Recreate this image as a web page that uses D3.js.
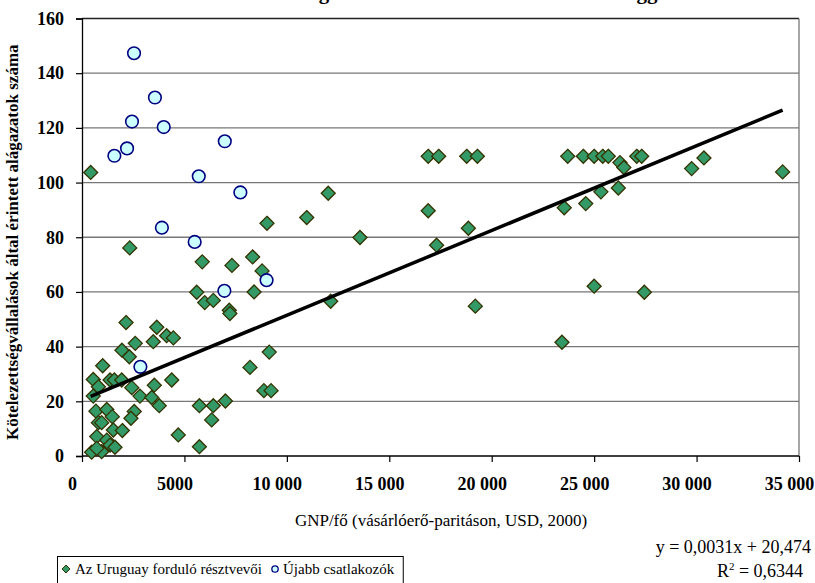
<!DOCTYPE html>
<html><head><meta charset="utf-8">
<script src="https://cdn.jsdelivr.net/npm/d3@7"></script>
<style>body{margin:0;background:#fff}svg{display:block}</style>
</head><body>
<svg id="c" width="815" height="583"></svg>
<script>
const titleText = "A kötelezettségvállalások száma és a GNP összefüggése";
const yTitle = "Kötelezettségvállalások által érintett alágazatok száma";
const xTitle = "GNP/fő (vásárlóerő-paritáson, USD, 2000)";
const seriesNames = ["Az Uruguay forduló résztvevői", "Újabb csatlakozók"];
const xTicks = [0,5000,10000,15000,20000,25000,30000,35000];
const xTickLabels = ["0","5000","10 000","15 000","20 000","25 000","30 000","35 000"];
const yTicks = [0,20,40,60,80,100,120,140,160];
const trendSlope = 0.0031, trendIntercept = 20.474;
const eqText = "y = 0,0031x + 20,474";
const r2Text = "0,6344";

const uruguayX = [424,9030,10970,16900,17410,18780,19300,12020,13570,16900,18860,17310,8330,8790,8400,12140,19200,
 23710,24470,25000,25420,25690,27080,27320,26260,26450,29760,30360,34200,23540,24590,25330,26180,25000,27450,23430,
 2330,5870,7320,5600,5990,6410,7190,7220,2150,3650,4130,4460,2600,3480,1950,2310,9140,8200,1010,550,800,1370,1580,1940,
 3530,2430,4380,550,2830,3400,3770,5730,6410,7000,8880,9230,680,1210,1480,2550,2390,800,960,1530,1970,6330,4700,5730,
 720,1210,1370,1610,470,960,720];
const uruguayY = [103.7,85.1,87.2,109.6,109.6,109.6,109.6,96.1,79.9,89.7,83.3,77.1,72.8,67.7,60.0,56.6,54.8,
 109.6,109.6,109.6,109.6,109.6,109.6,109.6,107.3,105.5,105.1,109,103.9,90.8,92.3,96.6,98.0,62.1,59.9,41.6,
 76.1,71.0,69.7,59.9,56.1,56.9,53.3,52.1,48.8,47.1,44.0,43.2,41.2,41.8,38.7,36.3,38.0,32.4,33.0,28.0,25.3,27.8,27.8,27.8,
 25.9,25.0,27.8,21.9,21.9,21.4,18.4,18.4,18.4,20.1,23.9,23.9,16.4,17.0,14.4,16.3,13.8,12.2,12.2,9.5,9.3,13.2,7.7,3.4,
 7.1,5.8,4.0,3.2,1.4,1.6,2.8];
const newX = [2540,1580,2200,2440,3560,3990,6970,5700,7730,3900,5500,6950,9010,2850];
const newY = [147.3,109.8,112.5,122.3,131.1,120.3,115.1,102.3,96.4,83.5,78.3,60.4,64.3,32.6];

const FONT = "'Liberation Serif','Times New Roman',Tinos,'DejaVu Serif',serif";
const svg = d3.select("#c");
const L = 82, R = 799, T = 18.5, B = 456;
const x = d3.scaleLinear().domain([0,35000]).range([L,R]);
const y = d3.scaleLinear().domain([0,160]).range([B,T]);

// cut-off title
svg.append("text").attr("x",440).attr("y",-1).attr("text-anchor","middle")
  .style("font-family",FONT).style("font-size","21px").style("font-weight","bold").text(titleText);

// gridlines
svg.append("g").selectAll("line").data(yTicks.filter(d=>d>0)).join("line")
  .attr("x1",L).attr("x2",R).attr("y1",d=>y(d)).attr("y2",d=>y(d))
  .attr("stroke",d=>d===160?"#222":"#777").attr("stroke-width",1.3);
svg.append("line").attr("x1",R).attr("x2",R).attr("y1",T).attr("y2",B).attr("stroke","#777").attr("stroke-width",1.3);

// axes
const yAx = svg.append("g").attr("transform",`translate(${L},0)`)
  .call(d3.axisLeft(y).tickValues(yTicks).tickSize(6).tickPadding(12));
const xAx = svg.append("g").attr("transform",`translate(0,${B})`)
  .call(d3.axisBottom(x).tickValues(xTicks).tickFormat((d,i)=>xTickLabels[i]).tickSize(6).tickPadding(15));
[yAx,xAx].forEach(a=>{
  a.attr("font-family",null).attr("font-size",null);
  a.select(".domain").attr("stroke","#000").attr("stroke-width",1.3);
  a.selectAll(".tick line").attr("stroke","#000").attr("stroke-width",1.2);
  a.selectAll("text").style("font-family",FONT).style("font-size","18px").style("font-weight","bold").attr("fill","#000");
});
xAx.selectAll(".tick text").attr("dx",-10);
xAx.select(".domain").attr("d",`M${L},0H${R}`);

// titles
svg.append("text").attr("transform",`translate(18,${(T+B)/2+5}) rotate(-90)`).attr("text-anchor","middle")
  .style("font-family",FONT).style("font-size","17px").style("font-weight","bold").text(yTitle);
svg.append("text").attr("x",441).attr("y",526).attr("text-anchor","middle")
  .style("font-family",FONT).style("font-size","17px").text(xTitle);

// points
const diamond = s => `M0,${-s}L${s},0L0,${s}L${-s},0Z`;
svg.append("g").selectAll("path").data(uruguayX.map((v,i)=>[v,uruguayY[i]])).join("path")
  .attr("transform",d=>`translate(${x(d[0])},${y(d[1])})`).attr("d",diamond(7))
  .attr("fill","#339966").attr("stroke","#333300").attr("stroke-width",1.3);
svg.append("g").selectAll("circle").data(newX.map((v,i)=>[v,newY[i]])).join("circle")
  .attr("cx",d=>x(d[0])).attr("cy",d=>y(d[1])).attr("r",6.3)
  .attr("fill","#CCFFFF").attr("stroke","#000080").attr("stroke-width",1.6);

// trend line
const x0 = d3.min(uruguayX), x1 = d3.max(uruguayX);
svg.append("line").attr("x1",x(x0)).attr("y1",y(trendSlope*x0+trendIntercept))
  .attr("x2",x(x1)).attr("y2",y(trendSlope*x1+trendIntercept)).attr("stroke","#000").attr("stroke-width",3.5);

// legend
const lg = svg.append("g");
const box = lg.append("rect").attr("x",57.5).attr("y",556.5).attr("height",40).attr("fill","#fff").attr("stroke","#000");
lg.append("path").attr("transform","translate(66,569)").attr("d",diamond(4)).attr("fill","#339966").attr("stroke","#333300");
const t1 = lg.append("text").attr("x",75).attr("y",574).style("font-family",FONT).style("font-size","15px").text(seriesNames[0]);
const w1 = t1.node().getComputedTextLength();
const cx2 = 75 + w1 + 13;
lg.append("circle").attr("cx",cx2).attr("cy",569).attr("r",3.2).attr("fill","#CCFFFF").attr("stroke","#000080").attr("stroke-width",1.3);
const t2 = lg.append("text").attr("x",cx2+8).attr("y",574).style("font-family",FONT).style("font-size","15px").text(seriesNames[1]);
box.attr("width", cx2 + 8 + t2.node().getComputedTextLength() + 9 - 57.5);

// equation
svg.append("text").attr("x",811).attr("y",553).attr("text-anchor","end")
  .style("font-family",FONT).style("font-size","18px").text(eqText);
const r2 = svg.append("text").attr("x",760).attr("y",577).attr("text-anchor","middle")
  .style("font-family",FONT).style("font-size","18px");
r2.append("tspan").text("R");
r2.append("tspan").style("font-size","11px").attr("dy",-7).text("2");
r2.append("tspan").attr("dy",7).text(" = " + r2Text);
</script>
</body></html>
